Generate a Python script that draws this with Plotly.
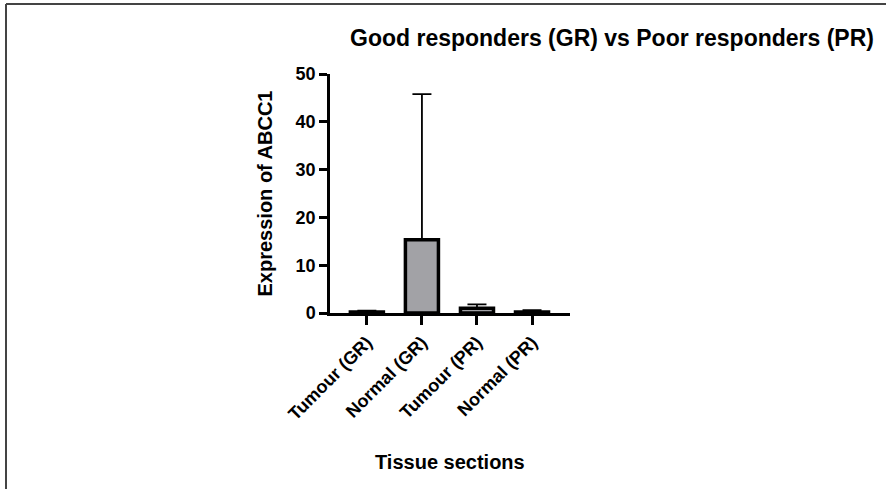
import plotly.graph_objects as go

categories = ["Tumour (GR)", "Normal (GR)", "Tumour (PR)", "Normal (PR)"]
means = [0.2, 15.3, 1.0, 0.2]
err_up = [0.3, 30.5, 0.8, 0.4]
y_ticks = [0, 10, 20, 30, 40, 50]

W, H = 886, 489
L, R, T, B = 330, 570, 74, 313

fig = go.Figure()
fig.add_trace(go.Bar(
    x=list(range(len(categories))), y=means,
    width=0.6,
    marker=dict(color="#a2a2a6", line=dict(color="black", width=3.5)),
    error_y=dict(type="data", array=err_up, arrayminus=[0]*len(err_up),
                 symmetric=False, color="black", thickness=1.8, width=9.5),
))

def px(x):
    return (x - L) / (R - L)
def py(y):
    return (B - y) / (B - T)

fig.update_layout(
    width=W, height=H,
    margin=dict(l=L, r=W - R, t=T, b=H - B, pad=0),
    paper_bgcolor="white", plot_bgcolor="white",
    showlegend=False,
    font=dict(family="Liberation Sans, Arial, sans-serif", color="black"),
    xaxis=dict(
        tickmode="array", tickvals=list(range(len(categories))),
        ticktext=["<b>%s</b>" % c for c in categories],
        tickangle=-45, tickfont=dict(size=18),
        range=[-0.67, 3.69], showline=True, linecolor="black", linewidth=2.5,
        ticks="outside", ticklen=9, tickwidth=2.5, tickcolor="black",
        showgrid=False, zeroline=False,
    ),
    yaxis=dict(
        range=[0, 50], tickvals=y_ticks,
        ticktext=["<b>%d</b>" % v for v in y_ticks], tickfont=dict(size=18),
        showline=True, linecolor="black", linewidth=2.5,
        ticks="outside", ticklen=8, tickwidth=2.5, tickcolor="black",
        showgrid=False, zeroline=False,
        title=dict(text="<b>Expression of ABCC1</b>", font=dict(size=20), standoff=18),
    ),
    annotations=[
        dict(text="<b>Good responders (GR) vs Poor responders (PR)</b>",
             x=px(612), y=py(38), xref="paper", yref="paper",
             showarrow=False, font=dict(size=23), xanchor="center", yanchor="middle"),
        dict(text="<b>Tissue sections</b>",
             x=px(450), y=py(462), xref="paper", yref="paper",
             showarrow=False, font=dict(size=20), xanchor="center", yanchor="middle"),
    ],
    shapes=[
        dict(type="line", xref="paper", yref="paper", x0=px(6), x1=px(886), y0=py(4), y1=py(4),
             line=dict(color="#444", width=2)),
        dict(type="line", xref="paper", yref="paper", x0=px(6), x1=px(6), y0=py(4), y1=py(489),
             line=dict(color="#444", width=2)),
    ],
)

fig.write_html("out.html")
